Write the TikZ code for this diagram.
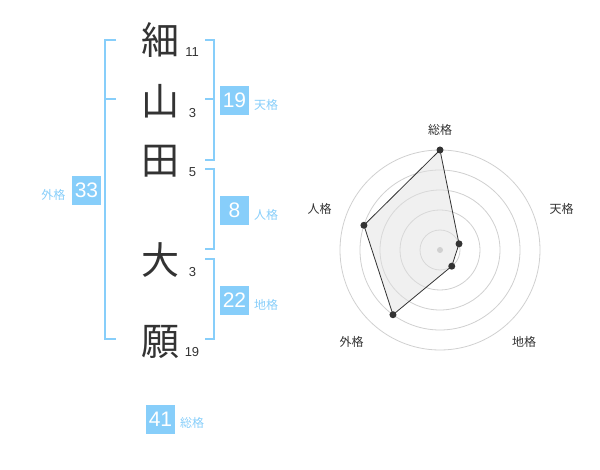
\documentclass[tikz,border=0pt]{standalone}
\usepackage{fontspec}
\setmainfont{Liberation Sans}
\newfontfamily\jp{Noto Sans CJK JP}
\definecolor{sky}{RGB}{135,206,250}
\definecolor{ink}{RGB}{51,51,51}
\definecolor{ringgray}{RGB}{208,208,208}
\definecolor{shade}{RGB}{225,225,225}
\begin{document}
\begin{tikzpicture}[x=1pt,y=-1pt,
    kanji/.style={font=\jp\fontsize{38}{38}\selectfont,text=ink,inner sep=0pt},
    strokes/.style={font=\fontsize{13}{13}\selectfont,text=ink,inner sep=0pt},
    numbox/.style={fill=sky,text=white,minimum width=29pt,minimum height=29pt,inner sep=0pt,font=\fontsize{21}{21}\selectfont},
    kaku/.style={text=sky,font=\jp\fontsize{12}{12}\selectfont,inner sep=0pt},
    axislabel/.style={text=ink,font=\jp\fontsize{12}{12}\selectfont,inner sep=0pt},
    brak/.style={draw=sky,line width=2pt},
    ring/.style={draw=ringgray,line width=0.8pt},
    poly/.style={fill=shade,fill opacity=0.5,draw=ink,line width=0.8pt},
    dot/.style={fill=ink}]
    \useasboundingbox (0,0) rectangle (600,470);
    \node[kanji] (k1) at (160,40) {細};
    \node[kanji] (k2) at (160,101.5) {山};
    \node[kanji] (k3) at (160,161.5) {田};
    \node[kanji] (k4) at (160,260) {大};
    \node[kanji] (k5) at (160,341.5) {願};
    \node[strokes] (s1) at (192,52.5) {11};
    \node[strokes] (s2) at (192.5,113.5) {3};
    \node[strokes] (s3) at (192.5,172.5) {5};
    \node[strokes] (s4) at (192.5,272.5) {3};
    \node[strokes] (s5) at (192,352.5) {19};
    \draw [brak] (116,40) -| (105,339) -- (116,339);
    \draw [brak] (105,99) -- (116,99);
    \draw [brak] (205,40) -| (214,160) -- (205,160);
    \draw [brak] (205,99) -- (214,99);
    \draw [brak] (205,169) -| (214,249) -- (205,249);
    \draw [brak] (205,259) -| (214,339) -- (205,339);
    \node[numbox] (gaibox) at (86.5,190.5) {33};
    \node[kaku] (gai) at (53.5,194.5) {外格};
    \node[numbox] (tenbox) at (234.5,100.5) {19};
    \node[kaku] (ten) at (266,104.5) {天格};
    \node[numbox] (jinbox) at (234.5,210.5) {8};
    \node[kaku] (jin) at (266,214.5) {人格};
    \node[numbox] (chibox) at (234.5,300.5) {22};
    \node[kaku] (chi) at (266,304.5) {地格};
    \node[numbox] (soubox) at (160.5,419.5) {41};
    \node[kaku] (sou) at (192,423) {総格};
    \begin{scope}[shift={(440,250)},yscale=-1]
    \draw [ring] (0,0) circle (20);
    \draw [ring] (0,0) circle (40);
    \draw [ring] (0,0) circle (60);
    \draw [ring] (0,0) circle (80);
    \draw [ring] (0,0) circle (100);
    \coordinate (psou) at (90:100);
    \coordinate (pten) at (18:20);
    \coordinate (pchi) at (-54:20);
    \coordinate (pgai) at (-126:80);
    \coordinate (pjin) at (162:80);
    \filldraw [poly] (psou) -- (pten) -- (pchi) -- (pgai) -- (pjin) -- cycle;
    \fill [ringgray] (0,0) circle (3);
    \fill [dot] (psou) circle (3.5);
    \fill [dot] (pten) circle (3.5);
    \fill [dot] (pchi) circle (3.5);
    \fill [dot] (pgai) circle (3.5);
    \fill [dot] (pjin) circle (3.5);
    \end{scope}
    \node[axislabel] (lsou) at (440,130) {総格};
    \node[axislabel] (lten) at (561.5,208.5) {天格};
    \node[axislabel] (lchi) at (524,341.5) {地格};
    \node[axislabel] (lgai) at (351.5,341.5) {外格};
    \node[axislabel] (ljin) at (319.5,208.5) {人格};
\end{tikzpicture}
\end{document}
